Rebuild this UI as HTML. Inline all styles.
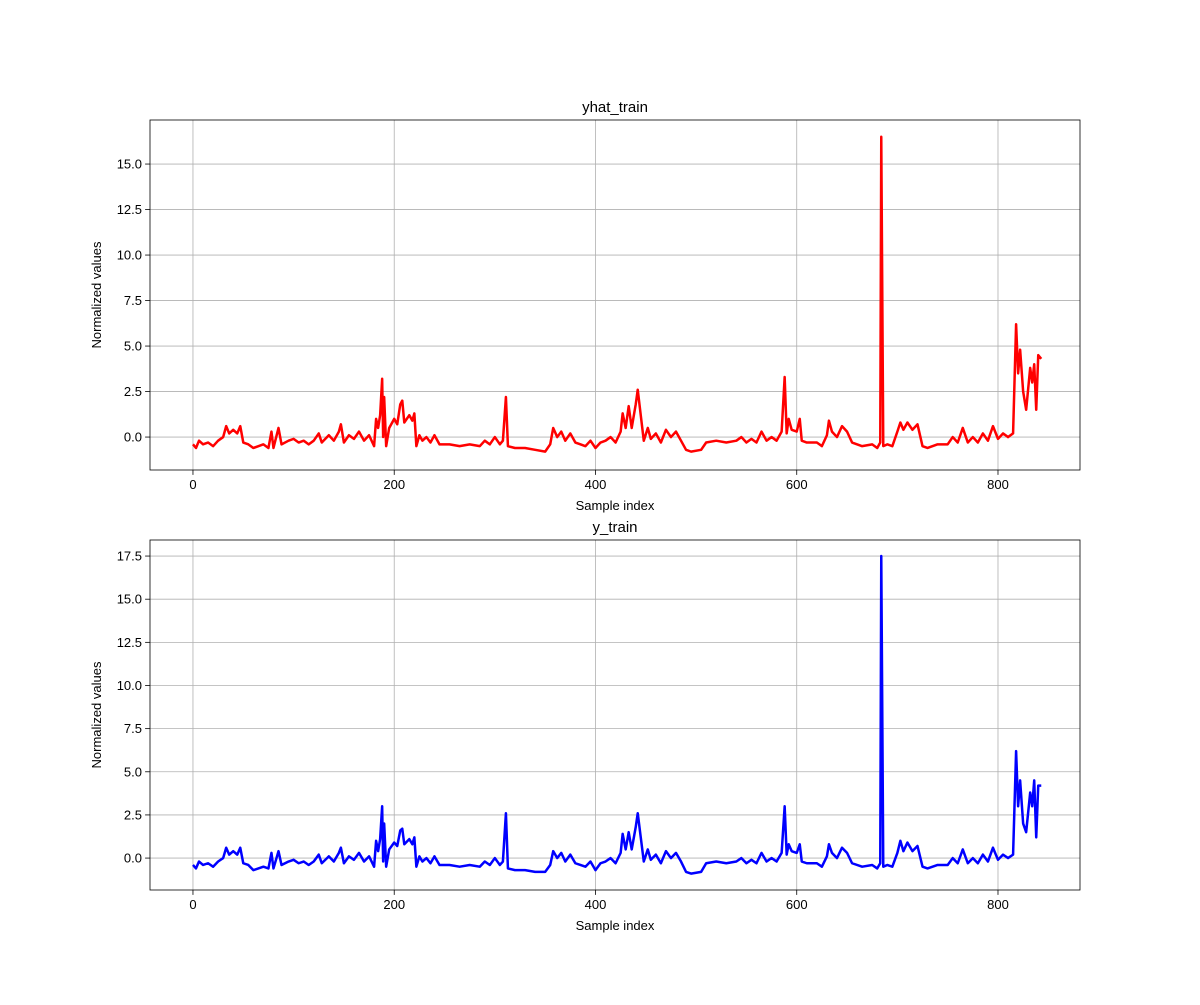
<!DOCTYPE html>
<html><head><meta charset="utf-8">
<style>
body{margin:0;background:#fff;}
svg text{font-family:"Liberation Sans","DejaVu Sans",sans-serif;fill:#000;}
</style></head>
<body>
<svg id="fig" width="1200" height="1000" xmlns="http://www.w3.org/2000/svg"></svg>
<script>
const xIdx = [0,3,6,10,15,20,25,30,33,36,40,44,47,50,55,60,65,70,75,78,80,85,88,95,100,105,110,115,120,125,128,135,140,145,147,150,155,160,165,170,175,180,182,184,186,188,189,190,192,195,200,203,206,208,210,215,218,220,222,225,228,232,236,240,245,255,265,275,285,290,295,300,305,308,311,313,320,330,340,350,355,358,362,366,370,375,380,385,390,395,400,405,410,415,420,425,427,430,433,436,440,442,445,448,452,455,460,465,470,475,480,485,490,495,505,510,520,530,540,545,550,555,560,565,570,575,580,585,588,590,592,595,600,603,605,610,620,625,630,632,635,640,645,650,655,665,675,680,683,684,686,690,695,700,703,706,710,715,720,725,730,740,750,755,760,765,770,775,780,785,790,795,800,805,810,815,818,820,822,825,828,832,834,836,838,840,843];
const yhatVals = [-0.4,-0.6,-0.2,-0.4,-0.3,-0.5,-0.2,0.0,0.6,0.2,0.4,0.2,0.6,-0.3,-0.4,-0.6,-0.5,-0.4,-0.6,0.3,-0.6,0.5,-0.4,-0.2,-0.1,-0.3,-0.2,-0.4,-0.2,0.2,-0.3,0.1,-0.2,0.3,0.7,-0.3,0.1,-0.1,0.3,-0.2,0.1,-0.5,1.0,0.5,1.2,3.2,0.0,2.2,-0.5,0.5,1.0,0.7,1.8,2.0,0.8,1.2,0.9,1.3,-0.5,0.1,-0.2,0.0,-0.3,0.1,-0.4,-0.4,-0.5,-0.4,-0.5,-0.2,-0.4,0.0,-0.4,-0.2,2.2,-0.5,-0.6,-0.6,-0.7,-0.8,-0.4,0.5,0.0,0.3,-0.2,0.2,-0.3,-0.4,-0.5,-0.2,-0.6,-0.3,-0.2,0.0,-0.3,0.3,1.3,0.5,1.7,0.5,1.8,2.6,1.2,-0.2,0.5,-0.1,0.2,-0.3,0.4,0.0,0.3,-0.2,-0.7,-0.8,-0.7,-0.3,-0.2,-0.3,-0.2,0.0,-0.3,-0.1,-0.3,0.3,-0.2,0.0,-0.2,0.3,3.3,0.2,1.0,0.4,0.3,1.0,-0.2,-0.3,-0.3,-0.5,0.1,0.9,0.3,0.0,0.6,0.3,-0.3,-0.5,-0.4,-0.6,-0.3,16.5,-0.5,-0.4,-0.5,0.3,0.8,0.4,0.8,0.4,0.7,-0.5,-0.6,-0.4,-0.4,0.0,-0.3,0.5,-0.3,0.0,-0.3,0.2,-0.2,0.6,-0.1,0.2,0.0,0.2,6.2,3.5,4.8,2.5,1.5,3.8,3.0,4.0,1.5,4.5,4.3];
const yVals = [-0.4,-0.6,-0.2,-0.4,-0.3,-0.5,-0.2,0.0,0.6,0.2,0.4,0.2,0.6,-0.3,-0.4,-0.7,-0.6,-0.5,-0.6,0.3,-0.6,0.4,-0.4,-0.2,-0.1,-0.3,-0.2,-0.4,-0.2,0.2,-0.3,0.1,-0.2,0.3,0.6,-0.3,0.1,-0.1,0.3,-0.2,0.1,-0.5,1.0,0.4,1.1,3.0,-0.2,2.0,-0.5,0.5,0.9,0.7,1.6,1.7,0.8,1.1,0.8,1.2,-0.5,0.1,-0.2,0.0,-0.3,0.1,-0.4,-0.4,-0.5,-0.4,-0.5,-0.2,-0.4,0.0,-0.4,-0.2,2.6,-0.6,-0.7,-0.7,-0.8,-0.8,-0.4,0.4,0.0,0.3,-0.2,0.2,-0.3,-0.4,-0.5,-0.2,-0.7,-0.3,-0.2,0.0,-0.3,0.3,1.4,0.5,1.5,0.5,1.8,2.6,1.2,-0.2,0.5,-0.1,0.2,-0.3,0.4,0.0,0.3,-0.2,-0.8,-0.9,-0.8,-0.3,-0.2,-0.3,-0.2,0.0,-0.3,-0.1,-0.3,0.3,-0.2,0.0,-0.2,0.3,3.0,0.2,0.8,0.4,0.3,0.8,-0.2,-0.3,-0.3,-0.5,0.1,0.8,0.3,0.0,0.6,0.3,-0.3,-0.5,-0.4,-0.6,-0.3,17.5,-0.5,-0.4,-0.5,0.3,1.0,0.4,0.9,0.4,0.7,-0.5,-0.6,-0.4,-0.4,0.0,-0.3,0.5,-0.3,0.0,-0.3,0.2,-0.2,0.6,-0.1,0.2,0.0,0.2,6.2,3.0,4.5,2.0,1.5,3.8,3.0,4.5,1.2,4.2,4.2];
const xTicks = [0,200,400,600,800];
const yTicksTop = [0.0,2.5,5.0,7.5,10.0,12.5,15.0];
const yTicksBot = [0.0,2.5,5.0,7.5,10.0,12.5,15.0,17.5];

const NS="http://www.w3.org/2000/svg";
const svg=document.getElementById('fig');
function mk(tag,attrs,parent){const e=document.createElementNS(NS,tag);for(const k in attrs)e.setAttribute(k,attrs[k]);(parent||svg).appendChild(e);return e;}

function panel(cfg){
  const {left,top,w,h,xmin,xmax,ymin,ymax,title,vals,color,yticks,name}=cfg;
  const g=mk('g',{});
  
  
  const sx=v=>left+(v-xmin)/(xmax-xmin)*w;
  const sy=v=>top+h-(v-ymin)/(ymax-ymin)*h;
  xTicks.forEach(t=>{
    const l=mk('line',{x1:sx(t),x2:sx(t),y1:top,y2:top+h,stroke:'#b0b0b0','stroke-width':0.8},g);
    
    
  });
  yticks.forEach(t=>{
    const l=mk('line',{x1:left,x2:left+w,y1:sy(t),y2:sy(t),stroke:'#b0b0b0','stroke-width':0.8},g);
    
    
  });
  const pts=xIdx.map((x,i)=>sx(x).toFixed(2)+','+sy(vals[i]).toFixed(2)).join(' ');
  const pl=mk('polyline',{points:pts,fill:'none',stroke:color,'stroke-width':2.5,'stroke-linejoin':'round'},g);
  
  
  const r=mk('rect',{x:left,y:top,width:w,height:h,fill:'none',stroke:'#000','stroke-width':0.8},g);
  
  
  xTicks.forEach(t=>{
    mk('line',{x1:sx(t),x2:sx(t),y1:top+h,y2:top+h+4.9,stroke:'#000','stroke-width':0.8},g);
    const tx=mk('text',{x:sx(t),y:top+h+19,'font-size':13,'text-anchor':'middle'},g);
    tx.textContent=t;
    
    
  });
  yticks.forEach(t=>{
    mk('line',{x1:left-4.9,x2:left,y1:sy(t),y2:sy(t),stroke:'#000','stroke-width':0.8},g);
    const tx=mk('text',{x:left-8,y:sy(t)+4.5,'font-size':13,'text-anchor':'end'},g);
    tx.textContent=t.toFixed(1);
    
    
  });
  const tt=mk('text',{x:left+w/2,y:top-8,'font-size':15,'text-anchor':'middle'},g);
  tt.textContent=title;
  
  
  const xl=mk('text',{x:left+w/2,y:top+h+40,'font-size':13,'text-anchor':'middle'},g);
  xl.textContent='Sample index';
  
  
  const yl=mk('text',{x:0,y:0,'font-size':13,'text-anchor':'middle',transform:`translate(101,${top+h/2}) rotate(-90)`},g);
  yl.textContent='Normalized values';
  
  
}
panel({left:150,top:120,w:930,h:350,xmin:-42.7,xmax:881.5,ymin:-1.81,ymax:17.42,title:'yhat_train',vals:yhatVals,color:'#ff0000',yticks:yTicksTop,name:'yhat-train'});
panel({left:150,top:540,w:930,h:350,xmin:-42.7,xmax:881.5,ymin:-1.85,ymax:18.43,title:'y_train',vals:yVals,color:'#0000ff',yticks:yTicksBot,name:'y-train'});
</script>
</body></html>
